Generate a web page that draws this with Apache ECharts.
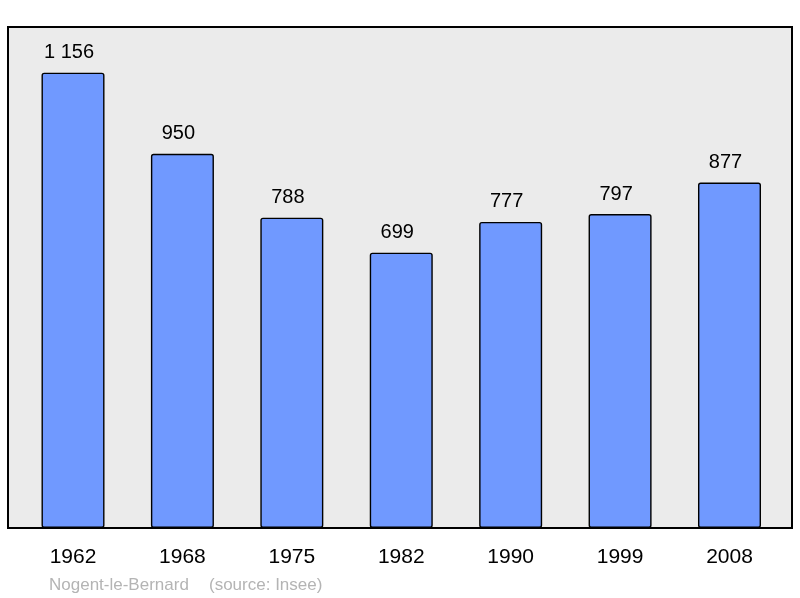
<!DOCTYPE html>
<html><head><meta charset="utf-8">
<script src="https://cdn.jsdelivr.net/npm/echarts@6/dist/echarts.min.js"></script>
<style>html,body{margin:0;padding:0;background:#fff}#c{width:800px;height:598px}</style>
</head><body><div id="c"></div>
<script>
const years = ['1962','1968','1975','1982','1990','1999','2008'];
const population = [1156, 950, 788, 699, 777, 797, 877];
const placeName = 'Nogent-le-Bernard';
const sourceText = '(source: Insee)';

const chart = echarts.init(document.getElementById('c'), null, {renderer:'canvas'});
const fmt = v => String(v).replace(/\B(?=(\d{3})+(?!\d))/g, ' ');
const FF = 'Liberation Sans, Arial, sans-serif';
const footStyle = {fontSize:17, fontWeight:'normal', color:'#b4b4b4', fontFamily:FF};
chart.setOption({
  animation:false,
  textStyle:{fontFamily:FF},
  title:[
    {text: placeName, left: 49, top: 577, padding:0, textStyle:footStyle},
    {text: sourceText, left: 209, top: 577, padding:0, textStyle:footStyle}
  ],
  grid:[
    {left:8, right:8, top:27, bottom:70, show:true, backgroundColor:'#ebebeb', borderColor:'#000', borderWidth:2},
    {left:18.3, right:15.8, top:27, bottom:70}
  ],
  xAxis:[
    {gridIndex:0, type:'category', data:years, show:false},
    {gridIndex:1, type:'category', data:years,
     axisLine:{show:false}, axisTick:{show:false},
     axisLabel:{fontSize:21, color:'#000', margin:19}}
  ],
  yAxis:[
    {gridIndex:0, type:'value', min:0, max:1272, show:false},
    {gridIndex:1, type:'value', min:0, max:1272, show:false}
  ],
  series:[{
    type:'bar', xAxisIndex:1, yAxisIndex:1, data:population, barWidth:63,
    itemStyle:{color:'#7099ff', borderColor:'#000', borderWidth:1.4, borderRadius:2},
    label:{show:true, position:'top', distance:10, offset:[-4,0], fontSize:20, color:'#000', formatter:p=>fmt(p.value)}
  }]
});
</script></body></html>
